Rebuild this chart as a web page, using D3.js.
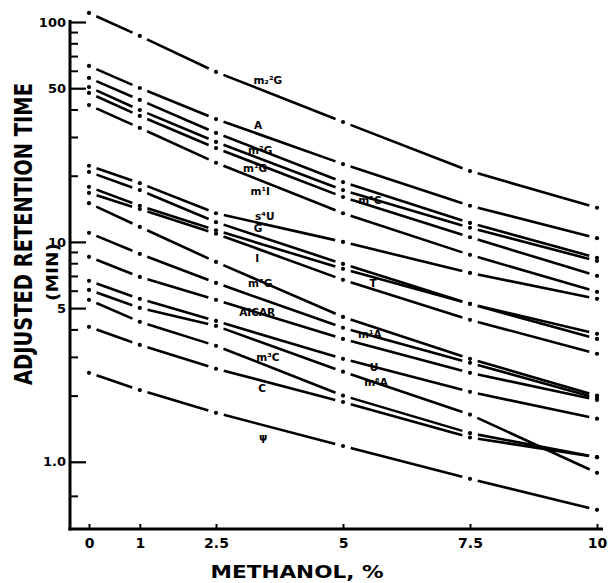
<!DOCTYPE html>
<html>
<head>
<meta charset="utf-8">
<script src="https://cdn.jsdelivr.net/npm/d3@7"></script>
<style>
  body { margin: 0; background: #fff; }
  text { font-family: "DejaVu Sans", "Liberation Sans", sans-serif; font-weight: bold; fill: #000; }
</style>
</head>
<body>
<svg id="chart" width="609" height="583"></svg>
<script>
// Methanol content of the eluent (%)
const methanol = [0, 1, 2.5, 5, 7.5, 10];
const xTickValues = [0, 1, 2.5, 5, 7.5, 10];
const xTickLabels = ["0", "1", "2.5", "5", "7.5", "10"];
const yMajorTicks = [1, 5, 10, 50, 100];
const yTickLabels = ["1.0", "5", "10", "50", "100"];
const yMinorTicks = [0.7, 2, 3, 4, 6, 7, 8, 9, 20, 30, 40, 60, 70, 80, 90];

// Adjusted retention times (min) at each methanol level
const rt_m22G  = [110, 86.4, 59.3, 35.1, 21.0, 14.3];
const rt_A     = [63.1, 50.1, 36.2, 22.6, 14.6, 10.4];
const rt_m2G   = [55.7, 44.2, 31.3, 18.7, 12.2, 8.46];
const rt_m1G   = [50.6, 39.8, 28.5, 17.2, 11.6, 8.19];
const rt_m5C   = [47.6, 37.4, 26.7, 16.0, 10.5, 7.01];
const rt_m1I   = [41.9, 33.0, 22.9, 13.5, 8.73, 5.93];
const rt_s4U   = [22.2, 18.5, 13.5, 10.0, 7.23, 5.51];
const rt_G     = [20.8, 17.2, 12.3, 7.94, 5.23, 3.82];
const rt_I     = [17.8, 14.6, 11.3, 7.54, 5.23, 3.62];
const rt_T     = [16.7, 14.1, 10.9, 6.72, 4.42, 3.10];
const rt_m7G   = [15.0, 11.7, 8.11, 4.56, 2.94, 2.00];
const rt_AICAR = [11.0, 8.82, 6.51, 4.07, 2.82, 1.95];
const rt_m1A   = [8.55, 6.93, 5.45, 3.62, 2.54, 1.91];
const rt_U     = [6.65, 5.51, 4.37, 2.94, 2.08, 1.57];
const rt_m3C   = [6.05, 5.01, 4.15, 2.57, 1.64, 0.891];
const rt_m6A   = [5.45, 4.33, 3.37, 2.00, 1.35, 1.05];
const rt_C     = [4.11, 3.40, 2.65, 1.87, 1.29, 1.05];
const rt_psi   = [2.54, 2.12, 1.67, 1.18, 0.837, 0.605];

const series = [rt_m22G, rt_A, rt_m2G, rt_m1G, rt_m5C, rt_m1I, rt_s4U, rt_G, rt_I,
                rt_T, rt_m7G, rt_AICAR, rt_m1A, rt_U, rt_m3C, rt_m6A, rt_C, rt_psi];

// Curve labels: text, methanol position, retention position
const labelText = ["m\u2082\u00B2G", "A", "m\u00B2G", "m\u00B9G", "m\u00B9I", "m\u2075C", "s\u2074U", "G", "I",
                   "T", "m\u2077G", "AICAR", "m\u00B9A", "U", "m\u00B3C", "m\u2076A", "C", "\u03C8"];
const labelX = [3.52, 3.33, 3.37, 3.27, 3.37, 5.53, 3.46, 3.33, 3.31,
                5.59, 3.37, 3.31, 5.53, 5.61, 3.52, 5.65, 3.41, 3.43];
const labelY = [54.5, 34.0, 26.2, 21.7, 16.9, 15.4, 13.1, 11.5, 8.46,
                6.51, 6.51, 4.76, 3.78, 2.68, 3.00, 2.29, 2.15, 1.29];

const svg = d3.select("#chart");
const x = d3.scaleLinear().domain([0, 10]).range([89, 597]);
const y = d3.scaleLog().domain([0.5, 100]).range([528, 22]);
const axisX0 = 70, axisY0 = 529;

// Curves: dash between measurement points, a dot at each point
const gap = 8;
const curves = svg.append("g");
series.forEach(vals => {
  const pts = methanol.map((m, i) => [x(m), y(vals[i])]);
  const segs = d3.pairs(pts).map(([p, q]) => {
    const len = Math.hypot(q[0] - p[0], q[1] - p[1]);
    const ux = (q[0] - p[0]) / len, uy = (q[1] - p[1]) / len;
    return [p[0] + ux * gap, p[1] + uy * gap, q[0] - ux * gap, q[1] - uy * gap];
  });
  curves.append("g").selectAll("line").data(segs).join("line")
    .attr("x1", d => d[0]).attr("y1", d => d[1])
    .attr("x2", d => d[2]).attr("y2", d => d[3])
    .attr("stroke", "#000").attr("stroke-width", 2.6).attr("stroke-linecap", "butt");
  curves.append("g").selectAll("circle").data(pts).join("circle")
    .attr("cx", d => d[0]).attr("cy", d => d[1]).attr("r", 2.1).attr("fill", "#000");
});

// Curve labels
svg.append("g").selectAll("text").data(labelText).join("text")
  .attr("x", (d, i) => x(labelX[i]))
  .attr("y", (d, i) => y(labelY[i]))
  .attr("dy", "0.35em")
  .attr("text-anchor", "middle")
  .attr("font-size", 10.5)
  .text(d => d);

// Y axis: minor ticks inside, major ticks with labels
svg.append("g").attr("transform", `translate(${axisX0},0)`)
  .call(d3.axisRight(y).tickValues(yMinorTicks).tickSize(8).tickFormat(""))
  .call(g => g.select(".domain").remove())
  .call(g => g.selectAll("line").attr("stroke", "#000").attr("stroke-width", 2));

svg.append("g").attr("transform", `translate(${axisX0},0)`)
  .call(d3.axisLeft(y).tickValues(yMajorTicks)
    .tickFormat((d, i) => yTickLabels[i]).tickSizeInner(-16).tickSizeOuter(0).tickPadding(4))
  .call(g => g.select(".domain").remove())
  .call(g => g.selectAll("line").attr("stroke", "#000").attr("stroke-width", 2.2))
  .call(g => g.selectAll("text").attr("font-size", 13).attr("font-family", "DejaVu Sans").attr("font-weight", "bold"));

// X axis
svg.append("g").attr("transform", `translate(0,${axisY0})`)
  .call(d3.axisBottom(x).tickValues(xTickValues)
    .tickFormat((d, i) => xTickLabels[i]).tickSizeInner(-5).tickSizeOuter(0).tickPadding(9))
  .call(g => g.select(".domain").remove())
  .call(g => g.selectAll("line").attr("stroke", "#000").attr("stroke-width", 2))
  .call(g => g.selectAll("text").attr("font-size", 14).attr("font-family", "DejaVu Sans").attr("font-weight", "bold"));

// Axis lines
svg.append("line").attr("x1", axisX0).attr("x2", axisX0)
  .attr("y1", y(100) - 2).attr("y2", axisY0 + 1.5)
  .attr("stroke", "#000").attr("stroke-width", 3);
svg.append("line").attr("x1", axisX0 - 1.5).attr("x2", 603)
  .attr("y1", axisY0).attr("y2", axisY0)
  .attr("stroke", "#000").attr("stroke-width", 3);

// Axis titles
svg.append("text")
  .attr("transform", "translate(32,234) rotate(-90)")
  .attr("text-anchor", "middle")
  .attr("font-size", 24)
  .attr("textLength", 302).attr("lengthAdjust", "spacingAndGlyphs")
  .text("ADJUSTED RETENTION TIME");
svg.append("text")
  .attr("transform", "translate(58,272) rotate(-90)")
  .attr("text-anchor", "middle")
  .attr("font-size", 16)
  .attr("textLength", 58).attr("lengthAdjust", "spacingAndGlyphs")
  .text("(MIN)");
svg.append("text")
  .attr("x", 297).attr("y", 578)
  .attr("text-anchor", "middle")
  .attr("font-size", 18)
  .attr("textLength", 173).attr("lengthAdjust", "spacingAndGlyphs")
  .text("METHANOL, %");
</script>
</body>
</html>
